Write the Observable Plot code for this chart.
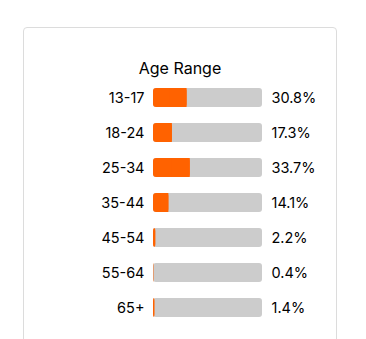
<!DOCTYPE html>
<html>
<head>
<meta charset="utf-8">
<script src="https://cdn.jsdelivr.net/npm/d3@7"></script>
<script src="https://cdn.jsdelivr.net/npm/@observablehq/plot@0.6"></script>
<style>
  html, body { margin: 0; padding: 0; background: #fff; overflow: hidden; width: 366px; height: 339px; }
  #card { position: absolute; left: 23px; top: 27px; width: 312px; height: 340px;
          border: 1px solid #dcdcdc; border-radius: 4px; background: #fff; }
  #title { position: absolute; left: 0; top: 30px; width: 312px; text-align: center;
           font-family: Inter, sans-serif; font-size: 16px; line-height: 20px; color: #000; }
  #chart { position: absolute; left: 0; top: 0; }
</style>
</head>
<body>
<div id="card">
  <div id="chart"></div>
  <div id="title">Age Range</div>
</div>
<script>
const categories = ["13-17", "18-24", "25-34", "35-44", "45-54", "55-64", "65+"];
const values = [30.8, 17.3, 33.7, 14.1, 2.2, 0.4, 1.4];
const valueLabels = ["30.8%", "17.3%", "33.7%", "14.1%", "2.2%", "0.4%", "1.4%"];

const data = categories.map((c, i) => ({ cat: c, value: values[i], label: valueLabels[i] }));

const chart = Plot.plot({
  width: 312,
  height: 311,
  marginLeft: 129,
  marginRight: 74,
  marginTop: 59,
  marginBottom: 20,
  style: { fontFamily: "Inter, sans-serif", fontSize: "14.5px", color: "#000", background: "transparent" },
  x: { domain: [0, 100], axis: null },
  y: { domain: categories, paddingInner: 0.45, paddingOuter: 0, label: null },
  marks: [
    Plot.barX(data, { y: "cat", x1: 0, x2: 100, fill: "#cccccc", rx: 3 }),
    Plot.barX(data, { y: "cat", x1: 0, x2: "value", fill: "#ff6200", rx: 3 }),
    Plot.barX(data.filter(d => d.value > 5), { y: "cat", x1: d => d.value / 2, x2: "value", fill: "#ff6200" }),
    Plot.axisY({ tickSize: 0, tickPadding: 9, fontSize: 14.5, label: null, fill: "#000" }),
    Plot.text(data, { y: "cat", x: 100, text: "label", dx: 9, textAnchor: "start", fontSize: 14.5, fill: "#000" })
  ]
});
document.getElementById("chart").appendChild(chart);
</script>
</body>
</html>
